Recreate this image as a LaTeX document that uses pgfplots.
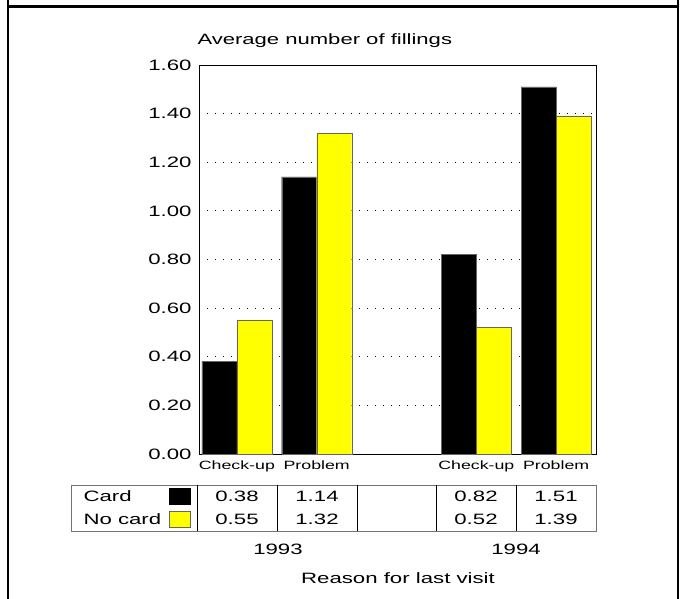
\documentclass[border=0pt]{standalone}
\usepackage{fontspec}
\setmainfont{Liberation Sans}[FakeStretch=1.48]
\usepackage{pgfplots}
\pgfplotsset{compat=1.18}
\definecolor{barYellow}{RGB}{255,255,0}
\begin{document}
\begin{tikzpicture}[x=1bp,y=1bp]
\useasboundingbox (0,0) rectangle (685,-599);
\fill[white] (0,0) rectangle (685,-599);
\draw[line width=2.5bp] (8,0) -- (8,-599);
\draw[line width=2.5bp] (678,0) -- (678,-599);
\draw[line width=2.5bp] (8,-6.7) -- (678,-6.7);
\begin{axis}[
  at={(199bp,-454bp)}, anchor=south west, scale only axis,
  width=397bp, height=389bp,
  ybar=0pt, bar width=35bp,
  xmin=-0.475, xmax=4.5, ymin=0, ymax=1.6,
  xtick={0,1,3,4}, xticklabels={Check-up,Problem,Check-up,Problem},
  ytick={0,0.2,0.4,0.6,0.8,1.0,1.2,1.4,1.6},
  ymajorgrids, grid style={black, line width=0.8bp, dash pattern=on 1bp off 7bp},
  major tick length=0pt,
  xticklabel style={font=\fontsize{12bp}{14bp}\selectfont, yshift=-3.5bp},
  yticklabel style={font=\fontsize{15bp}{17bp}\selectfont, xshift=-4bp},
  yticklabel={\pgfmathprintnumber[fixed,fixed zerofill,precision=2]{\tick}},
  /pgf/number format/assume math mode=true,
  axis line style={line width=0.8bp},
]
\addplot[fill=black, draw=black!60] coordinates {(0,0.38) (1,1.14) (3,0.82) (4,1.51)};
\addplot[fill=barYellow, draw=black!60] coordinates {(0,0.55) (1,1.32) (3,0.52) (4,1.39)};
\end{axis}
% title
\node[anchor=west, font=\fontsize{14.9bp}{17bp}\selectfont] at (194,-41) {Average number of fillings};
% table
\draw[black!55, line width=0.8bp] (71,-485) rectangle (596,-531);
\foreach \xx in {197,277,357,436,516} \draw[black, line width=0.8bp] (\xx,-485) -- (\xx,-531);
\begin{scope}[every node/.style={font=\fontsize{15bp}{17bp}\selectfont}]
\node[anchor=west] at (80,-496) {Card};
\node[anchor=west] at (80,-519) {No card};
\fill[black] (169,-488) rectangle (191,-505);
\filldraw[fill=barYellow, draw=black!60] (169,-511) rectangle (190,-527);
\node at (237,-496) {0.38}; \node at (317,-496) {1.14};
\node at (476,-496) {0.82}; \node at (556,-496) {1.51};
\node at (237,-519) {0.55}; \node at (317,-519) {1.32};
\node at (476,-519) {0.52}; \node at (556,-519) {1.39};
\node at (278,-549) {1993};
\node at (516,-549) {1994};
\node at (398,-578) {Reason for last visit};
\end{scope}
\end{tikzpicture}
\end{document}
